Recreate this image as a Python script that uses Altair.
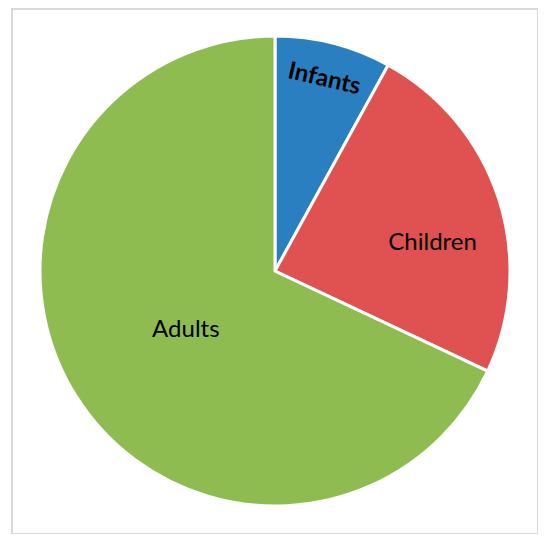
import altair as alt
import pandas as pd

categories = ["Infants", "Children", "Adults"]
values = [8, 24, 68]
order = [1, 2, 3]
colors = ["#2a7fc1", "#e05252", "#8fbc50"]

df = pd.DataFrame({"group": categories, "value": values, "order": order})

CX, CY, R = 263, 262, 235

base = alt.Chart(df).encode(
    theta=alt.Theta("value:Q", stack=True),
    order=alt.Order("order:Q"),
)

pie = base.mark_arc(stroke="white", strokeWidth=3).encode(
    color=alt.Color("group:N", scale=alt.Scale(domain=categories, range=colors), legend=None),
    x=alt.value(CX), y=alt.value(CY), radius=alt.value(R),
)

def label(name, rad, off=0.0, angle=0, weight="normal"):
    return base.mark_text(
        font="Lato", fontSize=24, fontWeight=weight, color="black",
        thetaOffset=off, angle=angle, align="center", baseline="middle",
    ).encode(
        text=alt.condition(alt.datum.group == name, "group:N", alt.value("")),
        x=alt.value(CX), y=alt.value(CY), radius=alt.value(rad),
    )

chart = alt.layer(
    pie,
    label("Infants", 198, 0.0, 13, "bold"),
    label("Children", 160, 0.14),
    label("Adults", 107, -0.02),
).properties(
    width=526, height=525,
    padding={"left": 4, "top": 1, "right": 0, "bottom": 0},
    autosize=alt.AutoSizeParams(type="none"),
).configure_view(stroke="#d9d9d9", strokeWidth=2)

chart.save("out.html", embed_options={"renderer": "svg", "actions": False})
